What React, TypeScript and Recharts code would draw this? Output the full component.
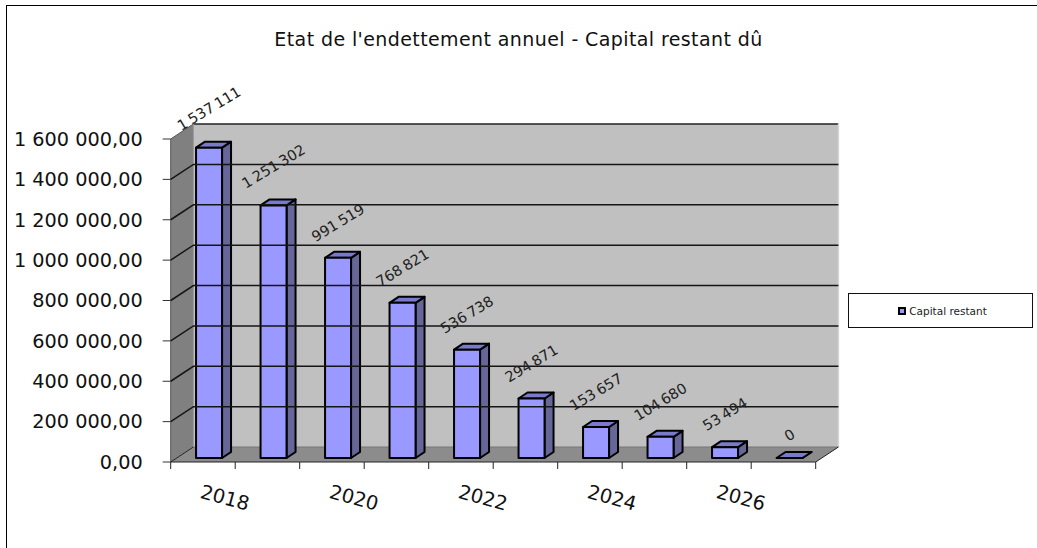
import { Bar, BarChart, LabelList, Legend, ReferenceArea, ReferenceLine, XAxis, YAxis } from 'recharts'

const YEARS = ['2018', '2019', '2020', '2021', '2022', '2023', '2024', '2025', '2026', '2027']
const CAPITAL = [1537111, 1251302, 991519, 768821, 536738, 294871, 153657, 104680, 53494, 0]
const Y_TICKS = [0, 200000, 400000, 600000, 800000, 1000000, 1200000, 1400000, 1600000]
const GRID_VALUES = [200000, 400000, 600000, 800000, 1000000, 1200000, 1400000]

const data = YEARS.map((year, i) => ({ year, capital: CAPITAL[i] }))

const FONT = '"DejaVu Sans", sans-serif'
// fake 3D: how far the back wall sits behind the front plane
const WALL_DX = 22.7
const WALL_DY = 15
// bars stand part way into the floor
const BAR_SHIFT_X = 6
const BAR_SHIFT_Y = 4
const BAR_DX = 9
const BAR_DY = 6

const groupDigits = (n: number) => String(n).replace(/\B(?=(\d{3})+$)/g, ' ')
const formatAxis = (n: number) => groupDigits(n) + ',00'

function Walls({ x, y, width, height }: any) {
  const b = y + height
  const r = x + width
  return (
    <g>
      <polygon points={`${x + WALL_DX},${y - WALL_DY} ${r + WALL_DX},${y - WALL_DY} ${r + WALL_DX},${b - WALL_DY} ${x + WALL_DX},${b - WALL_DY}`} fill="#c0c0c0" />
      <polygon points={`${x},${y} ${x + WALL_DX},${y - WALL_DY} ${x + WALL_DX},${b - WALL_DY} ${x},${b}`} fill="#808080" />
      <polygon points={`${x},${b} ${x + WALL_DX},${b - WALL_DY} ${r + WALL_DX},${b - WALL_DY} ${r},${b}`} fill="#8c8c8c" />
      <line x1={x + WALL_DX} y1={y - WALL_DY} x2={r + WALL_DX} y2={y - WALL_DY} stroke="#222" strokeWidth={1.5} />
      <line x1={x} y1={y} x2={x + WALL_DX} y2={y - WALL_DY} stroke="#555" />
      <line x1={x} y1={y} x2={x} y2={b} stroke="#555" />
      <line x1={x + WALL_DX} y1={y - WALL_DY} x2={x + WALL_DX} y2={b - WALL_DY} stroke="#999" />
      <line x1={r + WALL_DX} y1={y - WALL_DY} x2={r + WALL_DX} y2={b - WALL_DY} stroke="#d4d4d4" strokeWidth={1.5} />
      <line x1={x + WALL_DX} y1={b - WALL_DY} x2={r + WALL_DX} y2={b - WALL_DY} stroke="#777" />
      <line x1={x} y1={b} x2={r} y2={b} stroke="#222" strokeWidth={1.2} />
      <line x1={x} y1={b} x2={x + WALL_DX} y2={b - WALL_DY} stroke="#222" />
      <line x1={r} y1={b} x2={r + WALL_DX} y2={b - WALL_DY} stroke="#222" />
    </g>
  )
}

function GridLine({ x1, y1, x2, y2 }: any) {
  return (
    <polyline
      points={`${x1},${y1} ${x1 + WALL_DX},${y1 - WALL_DY} ${x2 + WALL_DX},${y2 - WALL_DY}`}
      fill="none"
      stroke="#151515"
      strokeWidth={1.5}
    />
  )
}

function Bar3D({ x, y, width, height }: any) {
  const l = x + BAR_SHIFT_X
  const t = y - BAR_SHIFT_Y
  const r = l + width
  const b = t + height
  return (
    <g stroke="#000" strokeWidth={2} strokeLinejoin="round">
      <polygon points={`${r},${t} ${r + BAR_DX},${t - BAR_DY} ${r + BAR_DX},${b - BAR_DY} ${r},${b}`} fill="#666699" />
      <polygon points={`${l},${t} ${l + BAR_DX},${t - BAR_DY} ${r + BAR_DX},${t - BAR_DY} ${r},${t}`} fill="#7a7acc" />
      {height > 0 && <rect x={l} y={t} width={width} height={height} fill="#9999ff" />}
    </g>
  )
}

function BarValue({ x, y, width, value }: any) {
  const text = groupDigits(value)
  const textWidth = text.length * 8
  const cx = x + BAR_SHIFT_X + width / 2
  const cy = y - BAR_SHIFT_Y - 21 - textWidth * 0.25
  return (
    <text
      x={cx}
      y={cy}
      textAnchor="middle"
      dominantBaseline="central"
      fontFamily={FONT}
      fontSize={14.5}
      wordSpacing={-1.5}
      fill="#222"
      transform={`rotate(-31 ${cx} ${cy})`}
    >
      {text}
    </text>
  )
}

function YearTick({ x, y, index, width }: any) {
  const band = width / YEARS.length
  const left = x - band / 2
  const right = x + band / 2
  const top = y - 8
  const lx = x + 22
  const ly = y + 28
  return (
    <g>
      {index === 0 && <line x1={left} y1={top} x2={left} y2={top + 7} stroke="#222" />}
      <line x1={right} y1={top} x2={right} y2={top + 7} stroke="#222" />
      {index % 2 === 0 && (
        <text
          x={lx}
          y={ly}
          textAnchor="middle"
          dominantBaseline="central"
          fontFamily={FONT}
          fontSize={19.5}
          fill="#111"
          transform={`rotate(15 ${lx} ${ly})`}
        >
          {YEARS[index]}
        </text>
      )}
    </g>
  )
}

function LegendBox({ payload }: any) {
  return (
    <div
      style={{
        boxSizing: 'border-box',
        width: 185,
        height: 35,
        paddingLeft: 4,
        border: '1px solid #111',
        background: '#fff',
        display: 'flex',
        alignItems: 'center',
        justifyContent: 'center',
        gap: 3,
        fontFamily: FONT,
        fontSize: 10.5,
        color: '#222',
      }}
    >
      <span style={{ boxSizing: 'border-box', width: 8, height: 8, background: '#9999ff', border: '2px solid #000' }} />
      <span>{payload?.[0]?.value}</span>
    </div>
  )
}

export default function App() {
  return (
    <div style={{ position: 'absolute', left: 0, top: 0, width: 1037, height: 548, background: '#fff', overflow: 'hidden' }}>
      <div style={{ position: 'absolute', left: 6, top: 5, right: -2, bottom: -2, borderLeft: '1px solid #000', borderTop: '1px solid #000' }} />
      <div
        style={{
          position: 'absolute',
          left: 0,
          top: 28,
          width: 1037,
          textAlign: 'center',
          fontFamily: FONT,
          fontSize: 19,
          letterSpacing: 0.4,
          color: '#111',
        }}
      >
        Etat de l'endettement annuel - Capital restant dû
      </div>
      <div style={{ position: 'absolute', left: 0, top: 0 }}>
        <BarChart
          width={1037}
          height={548}
          data={data}
          barCategoryGap="30%"
          margin={{ top: 139, right: 221.3, bottom: 0, left: 10.7 }}
        >
          <XAxis dataKey="year" height={86} interval={0} axisLine={false} tickLine={false} tick={YearTick} />
          <YAxis
            width={160}
            domain={[0, 1600000]}
            ticks={Y_TICKS}
            interval={0}
            tickFormatter={formatAxis}
            axisLine={false}
            tickSize={8}
            tickMargin={20}
            tickLine={{ stroke: '#333' }}
            tick={{ fontFamily: FONT, fontSize: 19.3, fill: '#111' }}
          />
          <ReferenceArea y1={0} y2={1600000} shape={Walls} />
          {GRID_VALUES.map((v) => (
            <ReferenceLine key={v} y={v} shape={GridLine} />
          ))}
          <Legend
            layout="horizontal"
            align="center"
            verticalAlign="middle"
            wrapperStyle={{ left: 848, top: 293, width: 185, height: 35 }}
            content={LegendBox}
          />
          <Bar dataKey="capital" name="Capital restant" shape={Bar3D} isAnimationActive={false}>
            <LabelList dataKey="capital" content={BarValue} />
          </Bar>
        </BarChart>
      </div>
    </div>
  )
}
